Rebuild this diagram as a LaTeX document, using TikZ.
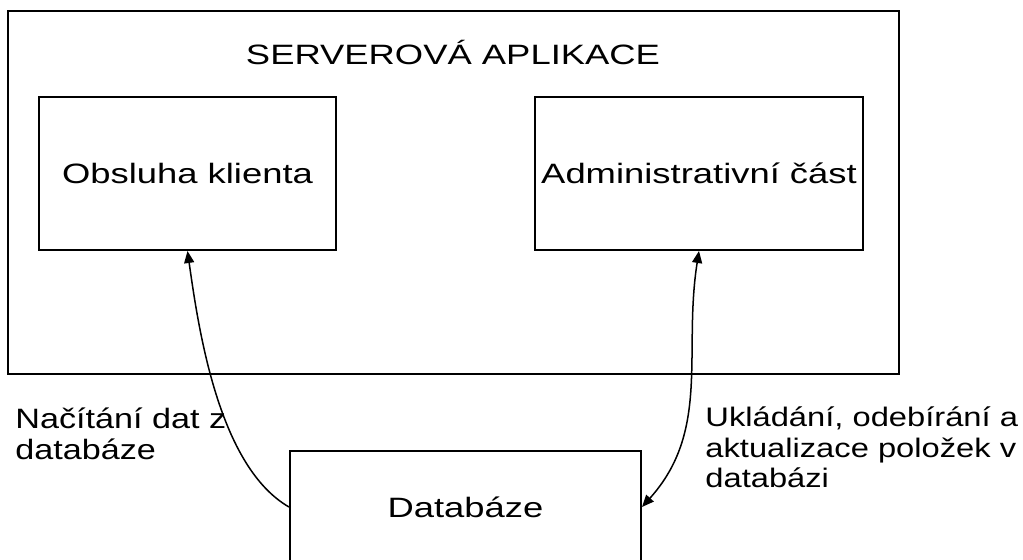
\documentclass[tikz,border=0pt]{standalone}
\usepackage{fontspec}
\setmainfont{Liberation Sans}[FakeStretch=1.3]
\newfontfamily\labelfont{Liberation Sans}[FakeStretch=1.22]
\usetikzlibrary{arrows.meta}

\begin{document}
\begin{tikzpicture}[x=0.5pt, y=-0.5pt, >={Triangle[length=6pt,width=5pt]},
  part/.style={draw, rectangle, line width=1pt, minimum height=76.5pt},
  note/.style={anchor=base west, align=left, font=\labelfont\fontsize{14pt}{15.5pt}\selectfont},
  every node/.style={font=\fontsize{14pt}{15.75pt}\selectfont, inner sep=0pt}]
\useasboundingbox (0,0) rectangle (1023,560);
\node[draw, rectangle, line width=1pt, minimum width=445.5pt, minimum height=181.5pt] (server) at (453.5,192.5) {};
\node (title) at (453,53) {SERVEROVÁ APLIKACE};
\node[part, minimum width=148.5pt] (client) at (187.5,173.5) {Obsluha klienta};
\node[part, minimum width=164pt] (admin) at (699,173.5) {Administrativní část};
\node[part, minimum width=175.5pt, minimum height=56pt] (db) at (465.5,507) {Databáze};
\path[draw, line width=0.75pt, ->] (db.west) to[out=150, in=-82, looseness=0.75] (client.south);
\path[draw, line width=0.75pt, <->] (db.east) to[out=48, in=-99] (admin.south);
\node[note] (readlabel) at (15,460) {Načítání dat z\\databáze};
\node[note, font=\labelfont\fontsize{13.4pt}{15.25pt}\selectfont] (writelabel) at (705,488) {Ukládání, odebírání a\\aktualizace položek v\\databázi};
\end{tikzpicture}
\end{document}
